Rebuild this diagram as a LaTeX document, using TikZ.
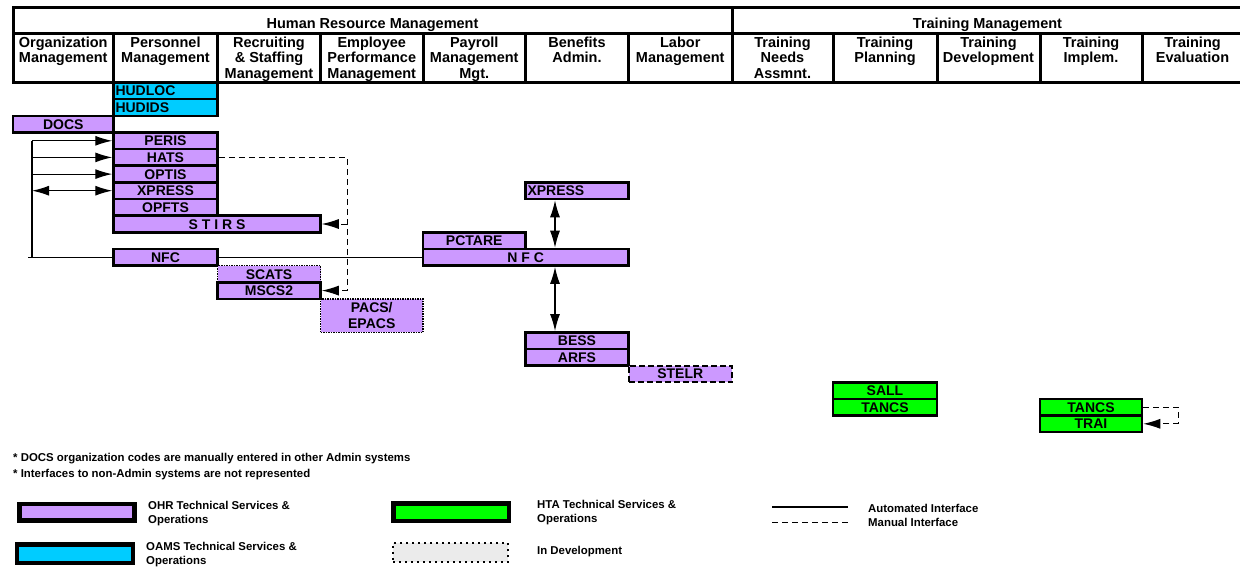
\documentclass[tikz,border=0pt]{standalone}
\usepackage{fontspec}
\setmainfont{Liberation Sans}
\usepackage{tikz}
\usetikzlibrary{arrows.meta}
\usetikzlibrary{positioning}
\definecolor{ohrpurple}{HTML}{CC99FF}
\definecolor{oamscyan}{HTML}{00CCFF}
\definecolor{htagreen}{HTML}{00FF00}
\tikzset{
	sysbox/.style={draw=black, line width=2.5pt, minimum height=16.65pt, inner sep=0pt,
		text height=10pt, text depth=0pt, font=\fontsize{14}{16}\selectfont\bfseries},
	ohr/.style={sysbox, fill=ohrpurple},
	oams/.style={sysbox, fill=oamscyan},
	hta/.style={sysbox, fill=htagreen},
	indev/.style={sysbox, fill=ohrpurple, line width=1.5pt, dash pattern=on 1.5pt off 1pt},
	planned/.style={sysbox, fill=ohrpurple, line width=2pt, dash pattern=on 6pt off 3pt},
	flushleft/.style={text width=#1, align=left, inner xsep=2pt},
	autolink/.style={draw=black, line width=1.2pt},
	manlink/.style={draw=black, line width=1pt, dash pattern=on 6pt off 4pt},
	colhead/.style={anchor=north, inner sep=0pt, align=center, font=\fontsize{14.5}{15.2}\selectfont\bfseries},
	areahead/.style={anchor=base, inner sep=0pt, font=\fontsize{14.5}{15.2}\selectfont\bfseries},
	note/.style={anchor=base west, inner sep=0pt, font=\fontsize{11.4}{13}\selectfont\bfseries},
	legtext/.style={anchor=west, inner sep=0pt, align=left, font=\fontsize{11.4}{14}\selectfont\bfseries},
	legbox/.style={draw=black, line width=4.5pt, inner sep=0pt},
}

\begin{document}
\begin{tikzpicture}[x=1pt, y=-1pt, >={Latex[length=17pt,width=10pt]}]
	\useasboundingbox (0,0) rectangle (1240,568);
	% header table
	\draw[line width=3pt] (13,7.5) rectangle (1245,82);
	\draw[line width=3pt] (13,33) -- (1245,33);
	\draw[line width=3pt] (732,7.5) -- (732,33);
	\foreach \x in {113.5,217.5,320.5,423,525.5,628.5,732,833,937,1040,1142}
		\draw[line width=3pt] (\x,33) -- (\x,82);
	\node[areahead] (hrm) at (372.5,28.5) {Human Resource Management};
	\node[areahead] (tm) at (987.5,28.5) {Training Management};
	\node[colhead] (orgm) at (63.25,37) {Organization\\Management};
	\node[colhead] (perm) at (165.5,37) {Personnel\\Management};
	\node[colhead] (recm) at (269,37) {Recruiting\\\& Staffing\\Management};
	\node[colhead] (empm) at (371.75,37) {Employee\\Performance\\Management};
	\node[colhead] (paym) at (474.25,37) {Payroll\\Management\\Mgt.};
	\node[colhead] (benm) at (577,37) {Benefits\\Admin.};
	\node[colhead] (labm) at (680.25,37) {Labor\\Management};
	\node[colhead] (trna) at (782.5,37) {Training\\Needs\\Assmnt.};
	\node[colhead] (trnp) at (885,37) {Training\\Planning};
	\node[colhead] (trnd) at (988.5,37) {Training\\Development};
	\node[colhead] (trni) at (1091,37) {Training\\Implem.};
	\node[colhead] (trne) at (1192.5,37) {Training\\Evaluation};
	%
	% systems
	\node[oams, flushleft=100pt] (hudloc) at (165.5,90.8) {HUDLOC};
	\node[oams, flushleft=100pt] (hudids) at (165.5,107.5) {HUDIDS};
	\node[ohr, minimum width=100.5pt] (docs) at (63.25,124.1) {DOCS};
	\node[ohr, minimum width=104pt] (peris) at (165.5,140.8) {PERIS};
	\node[ohr, minimum width=104pt] (hats) at (165.5,157.4) {HATS};
	\node[ohr, minimum width=104pt] (optis) at (165.5,174.1) {OPTIS};
	\node[ohr, minimum width=104pt] (xpress) at (165.5,190.7) {XPRESS};
	\node[ohr, minimum width=104pt] (opfts) at (165.5,207.4) {OPFTS};
	\node[ohr, minimum width=207pt] (stirs) at (217,224) {S T I R S};
	\node[ohr, minimum width=104pt] (nfc) at (165.5,257.3) {NFC};
	\node[indev, minimum width=103pt] (scats) at (269,274) {SCATS};
	\node[ohr, minimum width=103pt] (mscs) at (269,290.6) {MSCS2};
	\node[indev, minimum width=102.5pt, minimum height=33.3pt, text height=, align=center,
		font=\fontsize{14}{16.5}\selectfont\bfseries] (pacs) at (371.75,315.6) {PACS/\\EPACS};
	\node[ohr, minimum width=102.5pt] (pctare) at (474.25,240.7) {PCTARE};
	\node[ohr, minimum width=205.5pt] (nfcb) at (525.75,257.3) {N F C};
	\node[ohr, flushleft=99pt] (xpressb) at (577,190.7) {XPRESS};
	\node[ohr, minimum width=103pt] (bess) at (577,340.6) {BESS};
	\node[ohr, minimum width=103pt] (arfs) at (577,357.3) {ARFS};
	\node[planned, minimum width=103.5pt] (stelr) at (680.25,373.9) {STELR};
	\node[hta, minimum width=104pt] (sall) at (885,390.6) {SALL};
	\node[hta, minimum width=104pt] (tancs) at (885,407.2) {TANCS};
	\node[hta, minimum width=102pt] (tancsb) at (1091,407.2) {TANCS};
	\node[hta, minimum width=102pt] (trai) at (1091,423.8) {TRAI};
	%
	% automated interfaces
	\coordinate (bustop) at (32,140.8);
	\coordinate (busjoin) at (32,257.3);
	\coordinate (busend) at (28,257.3);
	\coordinate (benlink) at (555,249);
	\draw[autolink] (nfc.west) -- (busend);
	\draw[autolink] (bustop) -- (busjoin);
	\draw[autolink,->] (bustop) -- (peris.west);
	\draw[autolink,->] (bustop |- hats) -- (hats.west);
	\draw[autolink,->] (bustop |- optis) -- (optis.west);
	\draw[autolink,<->] (bustop |- xpress) -- (xpress.west);
	\draw[autolink] (nfc.east) -- (nfcb.west);
	\draw[autolink,<->] (xpressb.south -| benlink) -- (nfcb.north -| benlink);
	\draw[autolink,<->] (nfcb.south -| benlink) -- (bess.north -| benlink);
	%
	% manual interfaces
	\coordinate (manbend) at (347,0);
	\coordinate (trainbend) at (1178,0);
	\draw[manlink,->] (hats.east) -- (hats -| manbend) -- (mscs -| manbend) -- (mscs.east);
	\draw[manlink,->] (stirs -| manbend) -- (stirs.east);
	\draw[manlink,->] (tancsb.east) -- (tancsb -| trainbend) -- (trai -| trainbend) -- (trai.east);
	%
	% notes
	\node[note] (note1) at (13,461) {* DOCS organization codes are manually entered in other Admin systems};
	\node[note] (note2) at (13,477.5) {* Interfaces to non-Admin systems are not represented};
	%
	% legend
	\node[legbox, fill=ohrpurple, minimum width=115pt, minimum height=16.5pt] (legohr) at (77,512.25) {};
	\node[legbox, fill=oamscyan, minimum width=116pt, minimum height=18.5pt] (legoams) at (75,553.5) {};
	\node[legbox, fill=htagreen, minimum width=115.5pt, minimum height=17.5pt] (leghta) at (451,512) {};
	\node[draw=black, fill=black!8, line width=2pt, dash pattern=on 2pt off 4pt, inner sep=0pt,
		minimum width=115pt, minimum height=19pt] (legdev) at (450.5,552.5) {};
	\node[legtext] (legohrtxt) at (148,514) {OHR Technical Services \&\\Operations};
	\node[legtext] (legoamstxt) at (146,554.5) {OAMS Technical Services \&\\Operations};
	\node[legtext] (leghtatxt) at (537,513) {HTA Technical Services \&\\Operations};
	\node[legtext] (legdevtxt) at (537,552) {In Development};
	\coordinate (autoa) at (772,507);
	\coordinate (autob) at (848,507);
	\coordinate (mana) at (772,522);
	\coordinate (manb) at (848,522);
	\draw[autolink] (autoa) -- (autob);
	\draw[manlink] (mana) -- (manb);
	\node[legtext] (autotxt) at (868,508) {Automated Interface};
	\node[legtext] (mantxt) at (868,522) {Manual Interface};
\end{tikzpicture}
\end{document}
